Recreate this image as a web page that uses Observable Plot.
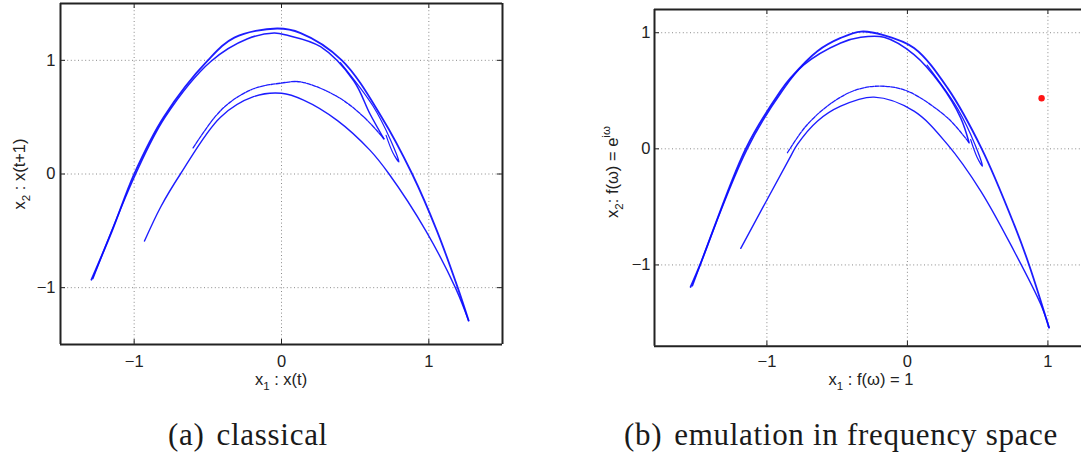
<!DOCTYPE html>
<html>
<head>
<meta charset="utf-8">
<script src="https://cdn.jsdelivr.net/npm/d3@7"></script>
<script src="https://cdn.jsdelivr.net/npm/@observablehq/plot@0.6"></script>
<style>
html, body { margin:0; padding:0; background:#fff; overflow:hidden; }
body { width:1081px; height:457px; position:relative; }
.panel { position:absolute; top:0; height:400px; overflow:hidden; }
.panel svg { max-width:none !important; display:block; }
.cap { position:absolute; top:419px; font-family:"Liberation Serif", serif; font-size:31px; line-height:1; color:#1a1a1a; white-space:nowrap; transform:translateX(-50%); letter-spacing:0.7px; }
.cap .gap { display:inline-block; width:12px; }
</style>
</head>
<body>
<div id="pa" class="panel" style="left:0px;width:520px"></div>
<div id="pb" class="panel" style="left:594px;width:487px"></div>
<div class="cap" style="left:248px">(a)<span class="gap"></span>classical</div>
<div class="cap" style="left:841px">(b)<span class="gap"></span>emulation in frequency space</div>
<script>
// ---------- data ----------
// panel (a): classical, x1 = x(t), x2 = x(t+1)
const aTicks = [-1, 0, 1];
const aOuter = [[-1.29,-0.93],[-1.15,-0.5],[-1.0,0.0],[-0.80,0.5],[-0.50,1.0],[-0.32,1.20],[-0.03,1.28],[0.13,1.24],[0.41,1.0],[0.68,0.5],[0.887,0.0],[1.055,-0.5],[1.196,-1.0],[1.27,-1.29]];
const aBand = [[-1.28,-0.92],[-0.99,0.0],[-0.79,0.5],[-0.48,0.99],[-0.23,1.19],[-0.05,1.24],[0.04,1.22],[0.265,1.12],[0.49,0.82],[0.60,0.53],[0.695,0.31]];
const aUpperInner = [[-0.60,0.23],[-0.453,0.5],[-0.35,0.63],[-0.19,0.75],[0.0,0.80],[0.13,0.81],[0.38,0.68],[0.56,0.50],[0.695,0.31]];
const aLowerInner = [[-0.93,-0.59],[-0.82,-0.29],[-0.686,0.0],[-0.414,0.5],[-0.19,0.68],[0.0,0.71],[0.15,0.65],[0.38,0.47],[0.60,0.21],[0.73,0.0],[0.98,-0.5],[1.18,-1.0],[1.27,-1.29]];
const aHook = [[0.40,0.98],[0.62,0.60],[0.74,0.30],[0.797,0.106],[0.755,0.19],[0.71,0.34]];

// panel (b): emulation in frequency space (right edge of the axes box is cut off by the picture)
const bXTicks = [-1, 0, 1];
const bYTicks = [-1, 0, 1];
const bOuter = [[-1.543,-1.19],[-1.476,-1.0],[-1.151,0.0],[-0.902,0.5],[-0.831,0.611],[-0.641,0.841],[-0.475,0.955],[-0.33,1.01],[-0.17,0.98],[0.047,0.869],[0.285,0.525],[0.529,0.0],[0.759,-0.651],[0.866,-1.0],[1.008,-1.54]];
const bBand = [[-1.53,-1.18],[-1.14,0.0],[-0.89,0.5],[-0.74,0.72],[-0.475,0.912],[-0.332,0.961],[-0.166,0.961],[0.047,0.812],[0.237,0.554],[0.379,0.267],[0.439,0.052]];
const bUpperInner = [[-0.854,-0.034],[-0.712,0.21],[-0.522,0.41],[-0.356,0.511],[-0.19,0.54],[0.0,0.497],[0.285,0.267],[0.439,0.052]];
const bLowerInner = [[-1.186,-0.857],[-0.843,-0.091],[-0.783,0.038],[-0.641,0.238],[-0.475,0.367],[-0.238,0.445],[0.047,0.324],[0.285,0.038],[0.522,-0.364],[0.759,-0.88],[0.949,-1.339],[1.008,-1.54]];
const bHook = [[0.14,0.72],[0.36,0.34],[0.48,0.04],[0.534,-0.149],[0.495,-0.07],[0.45,0.08]];
const bPoint = [[0.955,0.435]];

// ---------- drawing ----------
const INK = "#0a0aff";
const FONT = "Liberation Sans, Arial, Helvetica, sans-serif";
const fmt = d => d < 0 ? "\u2212" + (-d) : String(d);

function panel(o) {
  const innerH = o.height - o.mt - o.mb;
  const innerW = o.width - o.ml - o.mr;
  const grid = {stroke: "#8a8a8a", strokeDasharray: "1,2.6", strokeWidth: 1};
  const tick = {stroke: "#222", strokeWidth: 1};
  const border = {stroke: "#222", strokeWidth: 2};
  const xSides = o.rightSide ? [o.xDomain[0], o.xDomain[1]] : [o.xDomain[0]];
  const svg = Plot.plot({
    width: o.width, height: o.height,
    marginTop: o.mt, marginBottom: o.mb, marginLeft: o.ml, marginRight: o.mr,
    style: {fontFamily: FONT, fontSize: "16.5px", color: "#222", background: "transparent"},
    x: {domain: o.xDomain, ticks: o.xTicks, tickFormat: fmt, tickSize: 0, tickPadding: o.xPad, label: null},
    y: {domain: o.yDomain, ticks: o.yTicks, tickFormat: fmt, tickSize: 0, tickPadding: o.yPad, label: null},
    marks: [
      Plot.ruleX(o.xTicks, grid),
      Plot.ruleY(o.yTicks, grid),
      ...o.curves.map(c => Plot.line(c.data, {
        x: d => d[0], y: d => d[1], curve: "catmull-rom",
        stroke: INK, strokeWidth: c.w, strokeDasharray: c.dash, strokeOpacity: 0.92
      })),
      ...(o.extra || []),
      Plot.ruleX(o.xTicks, {...tick, insetTop: innerH - 5}),
      Plot.ruleX(o.xTicks, {...tick, insetBottom: innerH - 5}),
      Plot.ruleY(o.yTicks, {...tick, insetRight: innerW - 5}),
      ...(o.rightSide ? [Plot.ruleY(o.yTicks, {...tick, insetLeft: innerW - 5})] : []),
      Plot.ruleX(xSides, border),
      Plot.ruleY(o.yDomain, border)
    ]
  });
  svg.style.maxWidth = "none";
  svg.style.width = o.width + "px";
  svg.style.height = o.height + "px";
  return svg;
}

function label(svg, x, y, rotate, parts, size) {
  const t = d3.select(svg).append("text")
    .attr("transform", `translate(${x},${y})` + (rotate ? ` rotate(${rotate})` : ""))
    .attr("text-anchor", "middle")
    .attr("font-family", FONT)
    .attr("font-size", size)
    .attr("fill", "#222");
  let shift = 0;
  for (const p of parts) {
    const target = p.sub ? 5 : p.sup ? -8 : 0;
    const s = t.append("tspan").text(p.t).attr("dy", target - shift);
    shift = target;
    if (p.sub || p.sup) s.attr("font-size", size * 0.7);
  }
}

const svgA = panel({
  width: 520, height: 400, mt: 3, mb: 56, ml: 60, mr: 18, rightSide: true,
  xDomain: [-1.5, 1.5], yDomain: [-1.5, 1.5], xTicks: aTicks, yTicks: aTicks,
  xPad: 11, yPad: 5,
  curves: [
    {data: aOuter, w: 1.8},
    {data: aBand, w: 1.5},
    {data: aHook, w: 1.2},
    {data: aUpperInner, w: 1.3, dash: "4,1.2"},
    {data: aLowerInner, w: 1.4}
  ]
});
label(svgA, 281, 385, 0, [{t: "x"}, {t: "1", sub: true}, {t: " : x(t)"}], 16.5);
label(svgA, 25, 174, -90, [{t: "x"}, {t: "2", sub: true}, {t: " : x(t+1)"}], 16.5);
document.getElementById("pa").appendChild(svgA);

const svgB = panel({
  width: 487, height: 400, mt: 9, mb: 54.3, ml: 60, mr: 0, rightSide: false,
  xDomain: [-1.8, 1.239], yDomain: [-1.7, 1.2], xTicks: bXTicks, yTicks: bYTicks,
  xPad: 9, yPad: 4,
  curves: [
    {data: bOuter, w: 1.8},
    {data: bBand, w: 1.5},
    {data: bHook, w: 1.2},
    {data: bUpperInner, w: 1.3, dash: "4,1.2"},
    {data: bLowerInner, w: 1.4}
  ],
  extra: [Plot.dot(bPoint, {x: d => d[0], y: d => d[1], r: 3.2, fill: "#ff1414", stroke: "none"})]
});
label(svgB, 277, 385, 0, [{t: "x"}, {t: "1", sub: true}, {t: " : f(ω) = 1"}], 16.5);
label(svgB, 24, 172, -90, [{t: "x"}, {t: "2", sub: true}, {t: ": f(ω) = e"}, {t: "iω", sup: true}], 16.5);
document.getElementById("pb").appendChild(svgB);
</script>
</body>
</html>
